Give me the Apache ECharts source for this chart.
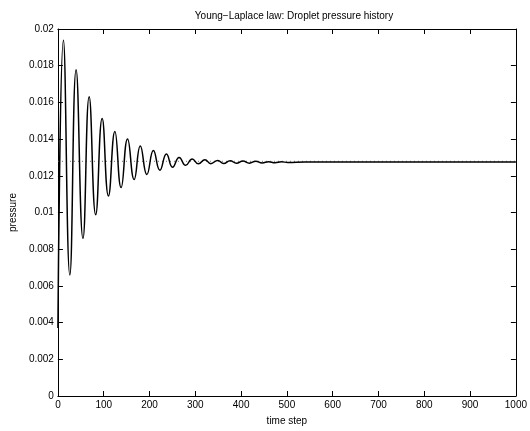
<!DOCTYPE html>
<html>
<head>
<meta charset="utf-8">
<script src="https://cdn.jsdelivr.net/npm/echarts@6/dist/echarts.min.js"></script>
<style>
html,body{margin:0;padding:0;background:#fff;}
#chart{width:530px;height:431px;}
</style>
</head>
<body>
<div id="chart"></div>
<script>
// Time steps at which the pressure curve was read (start, then alternating peaks/troughs)
const steps = [0, 12, 26, 39.7, 54.7, 68.2, 82.5, 96.6, 110.3, 124.4, 138, 152.1, 166.5, 179.9, 194.2,
  208.5, 222.6, 237, 250.4, 264.7, 279, 293.2, 306.8, 321, 333.8, 349, 362, 376, 390, 404, 418,
  432, 446, 460, 474, 488, 502, 540, 1000];
const pressure = [0.0037, 0.01939, 0.00660, 0.01778, 0.00859, 0.01631, 0.00988, 0.01512, 0.01090,
  0.01442, 0.01136, 0.01401, 0.01180, 0.01363, 0.01207, 0.01338, 0.01230, 0.01319, 0.01247,
  0.01300, 0.01257, 0.01292, 0.01265, 0.01288, 0.01266, 0.01284, 0.01267, 0.01282, 0.01268,
  0.01280, 0.01269, 0.01279, 0.01270, 0.01277, 0.01271, 0.01276, 0.01273, 0.01275, 0.01275];
// Dotted reference level (Young-Laplace prediction)
const refSteps = [0, 1000];
const refPressure = [0.01279, 0.01279];
const xTicks = [0, 100, 200, 300, 400, 500, 600, 700, 800, 900, 1000];
const yTicks = [0, 0.002, 0.004, 0.006, 0.008, 0.01, 0.012, 0.014, 0.016, 0.018, 0.02];

const font = 'Liberation Sans, Arial, Helvetica, sans-serif';
const chart = echarts.init(document.getElementById('chart'), null, {renderer: 'canvas'});

const axisCommon = {
  axisLine: {show: true, onZero: false, lineStyle: {color: '#000', width: 1}},
  axisTick: {show: true, inside: true, length: 5, lineStyle: {color: '#000', width: 1}},
  splitLine: {show: false}
};

chart.setOption({
  animation: false,
  backgroundColor: '#fff',
  title: {
    text: 'Young\u2212Laplace law: Droplet pressure history',
    left: 289, top: 6, textAlign: 'center',
    textStyle: {fontFamily: font, fontSize: 10, fontWeight: 'normal', color: '#000'}
  },
  grid: {left: 55, right: 7, top: 29, bottom: 31, containLabel: false},
  xAxis: [
    Object.assign({
      type: 'value', position: 'bottom', min: xTicks[0], max: xTicks[xTicks.length - 1], interval: 100,
      name: 'time step', nameLocation: 'middle', nameGap: 20,
      nameTextStyle: {fontFamily: font, fontSize: 10, color: '#000'},
      axisLabel: {fontFamily: font, fontSize: 10, color: '#000', margin: 4,
        formatter: v => String(v)}
    }, axisCommon),
    Object.assign({
      type: 'value', position: 'top', min: xTicks[0], max: xTicks[xTicks.length - 1], interval: 100,
      axisLabel: {show: false}
    }, axisCommon)
  ],
  yAxis: [
    Object.assign({
      type: 'value', position: 'left', min: yTicks[0], max: yTicks[yTicks.length - 1], interval: 0.002,
      name: 'pressure', nameLocation: 'middle', nameGap: 28, nameRotate: 90,
      nameTextStyle: {fontFamily: font, fontSize: 10, color: '#000'},
      axisLabel: {fontFamily: font, fontSize: 10, color: '#000', margin: 4,
        formatter: v => String(parseFloat(v.toFixed(4)))}
    }, axisCommon),
    Object.assign({
      type: 'value', position: 'right', min: yTicks[0], max: yTicks[yTicks.length - 1], interval: 0.002,
      axisLabel: {show: false}
    }, axisCommon)
  ],
  series: [
    {
      type: 'line', xAxisIndex: 0, yAxisIndex: 0,
      data: refSteps.map((t, i) => [t, refPressure[i]]),
      symbol: 'none', silent: true,
      lineStyle: {color: '#666', width: 1, type: [1, 3]}
    },
    {
      type: 'line', xAxisIndex: 0, yAxisIndex: 0,
      data: steps.map((t, i) => [t, pressure[i]]),
      symbol: 'none', smooth: 0.5, silent: true,
      lineStyle: {color: '#000', width: 1.5}
    }
  ]
});
</script>
</body>
</html>
